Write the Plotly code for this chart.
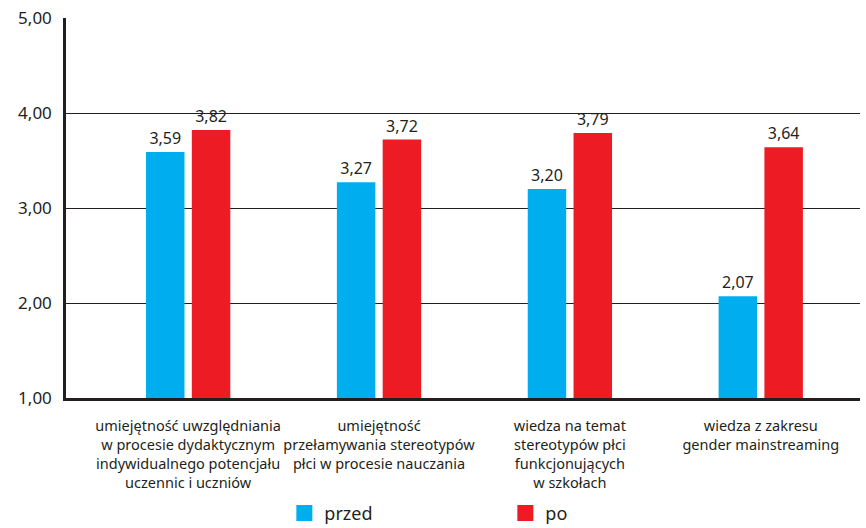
import plotly.graph_objects as go

categories = [
    "umiejętność uwzględniania<br>w procesie dydaktycznym<br>indywidualnego potencjału<br>uczennic i uczniów",
    "umiejętność<br>przełamywania stereotypów<br>płci w procesie nauczania",
    "wiedza na temat<br>stereotypów płci<br>funkcjonujących<br>w szkołach",
    "wiedza z zakresu<br>gender mainstreaming",
]
przed = [3.59, 3.27, 3.20, 2.07]
po = [3.82, 3.72, 3.79, 3.64]
series_names = ["przed", "po"]
y_ticks = [1, 2, 3, 4, 5]

BLUE = "#00AEEF"
RED = "#ED1C24"
FONT = "Noto Sans, sans-serif"

fig = go.Figure()
for name, vals, col in [(series_names[0], przed, BLUE), (series_names[1], po, RED)]:
    fig.add_trace(go.Bar(
        x=categories, y=vals, name=name, marker_color=col, marker_line_width=0,
        text=vals, texttemplate="%{y:.2f}", textposition="outside",
        textfont=dict(size=16, color="#231f20", family=FONT),
        cliponaxis=False, showlegend=False,
    ))
# legend proxies with large square symbols
for name, col in [(series_names[0], BLUE), (series_names[1], RED)]:
    fig.add_trace(go.Scatter(
        x=[None], y=[None], mode="markers", name=name,
        marker=dict(symbol="square", size=23, color=col),
    ))

fig.update_layout(
    width=866, height=528,
    margin=dict(l=66, r=6, t=18, b=130, autoexpand=False),
    paper_bgcolor="white", plot_bgcolor="white",
    separators=",.",
    barmode="group", bargap=0.52, bargroupgap=0.16,
    font=dict(family=FONT, color="#231f20"),
    legend=dict(
        orientation="h", x=0.275, xanchor="left",
        yref="container", y=0.028, yanchor="middle",
        entrywidth=176, entrywidthmode="pixels",
        font=dict(size=18, color="#231f20", family=FONT),
        itemsizing="trace",
    ),
)
fig.update_xaxes(
    range=[-0.64, 3.52], showgrid=False,
    showline=True, linecolor="#231f20", linewidth=2.5,
    ticks="", tickfont=dict(size=14.5, color="#231f20", family=FONT),
    ticklabelstandoff=13,
)
fig.update_yaxes(
    range=[1, 5], tickvals=y_ticks, tickformat=".2f",
    showgrid=True, gridcolor="#231f20", gridwidth=1,
    showline=True, linecolor="#231f20", linewidth=2.5,
    zeroline=False, ticks="", ticklabelstandoff=8,
    tickfont=dict(size=17, color="#231f20", family=FONT),
)

fig.write_html("out.html")
